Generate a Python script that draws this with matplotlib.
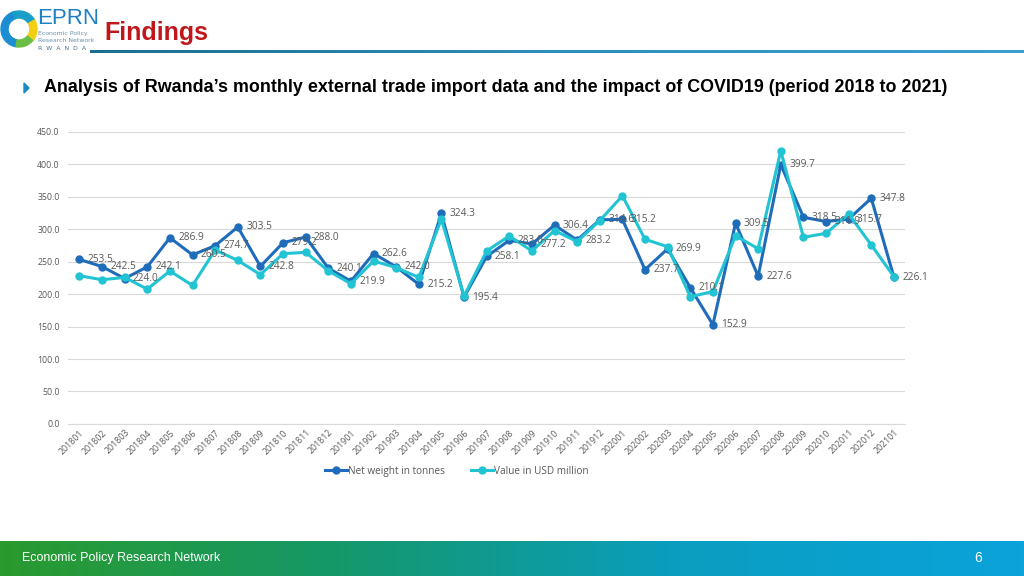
import numpy as np
import matplotlib.pyplot as plt
from matplotlib.patches import Wedge, Polygon
from matplotlib.colors import LinearSegmentedColormap

# Datos
meses = ["201801", "201802", "201803", "201804", "201805", "201806", "201807", "201808",
         "201809", "201810", "201811", "201812", "201901", "201902", "201903", "201904",
         "201905", "201906", "201907", "201908", "201909", "201910", "201911", "201912",
         "202001", "202002", "202003", "202004", "202005", "202006", "202007", "202008",
         "202009", "202010", "202011", "202012", "202101"]

peso_neto = [253.5, 242.5, 224.0, 242.1, 286.9, 260.5, 274.7, 303.5, 242.8, 279.2,
             288.0, 240.1, 219.9, 262.6, 242.0, 215.2, 324.3, 195.4, 258.1, 283.0,
             277.2, 306.4, 283.2, 314.6, 315.2, 237.7, 269.9, 210.1, 152.9, 309.5,
             227.6, 399.7, 318.5, 311.9, 315.7, 347.8, 226.1]

valor_usd = [228.4, 222.2, 225.8, 207.7, 235.6, 213.4, 268.0, 252.0, 230.0, 262.4,
             264.4, 236.0, 216.0, 251.0, 241.0, 225.8, 315.5, 197.0, 266.5, 289.7,
             266.5, 298.0, 281.0, 313.4, 351.5, 284.5, 273.0, 196.0, 204.0, 290.0,
             270.0, 421.0, 287.6, 293.7, 323.5, 275.8, 227.0]

AZUL = "#1F6DBA"
CIAN = "#22C4D4"
GRIS = "#595959"

fig = plt.figure(figsize=(10.24, 5.76), dpi=100)

# Fondo / decoración en coordenadas de píxel
bg = fig.add_axes([0, 0, 1, 1])
bg.set_xlim(0, 1024)
bg.set_ylim(576, 0)
bg.axis("off")

# Banda inferior con degradado
grad = np.linspace(0, 1, 256).reshape(1, -1)
cmap_pie = LinearSegmentedColormap.from_list("pie", ["#2A9A2E", "#15986A", "#0A9EC0", "#0AA3DA"])
bg.imshow(grad, extent=[0, 1024, 576, 541], aspect="auto", cmap=cmap_pie, zorder=1)
bg.text(22, 558, "Economic Policy Research Network", color="white", fontsize=9,
        family="Liberation Sans", va="center", ha="left", zorder=2)
bg.text(978, 558, "6", color="white", fontsize=10, family="Liberation Sans",
        va="center", ha="center", zorder=2)

# Línea bajo el título
cmap_lin = LinearSegmentedColormap.from_list("lin", ["#1A6F8E", "#2E8FB8", "#3BA0D0"])
bg.imshow(grad, extent=[90, 1024, 53.5, 50.5], aspect="auto", cmap=cmap_lin, zorder=1)

# Logo
bg.add_patch(Wedge((19, 29), 18, 100, 250, width=7, color="#1B8ED3", zorder=2))
bg.add_patch(Wedge((19, 29), 18, 250, 330, width=7, color="#1AA0C8", zorder=2))
bg.add_patch(Wedge((19, 29), 18, 330, 40, width=7, color="#F2CF12", zorder=2))
bg.add_patch(Wedge((19, 29), 18, 40, 100, width=7, color="#6BBE45", zorder=2))
bg.text(37, 19, "EPRN", color="#1E80C4", fontsize=16, family="Liberation Sans",
        va="center", ha="left", zorder=2)
bg.text(38, 34, "Economic Policy", color="#6A8FA8", fontsize=4.4, va="center", ha="left")
bg.text(38, 41, "Research Network", color="#6A8FA8", fontsize=4.4, va="center", ha="left")
bg.text(38, 48, "R  W  A  N  D  A", color="#4A6F88", fontsize=4.4, va="center", ha="left")

bg.text(104, 33, "Findings", color="#C0171C", fontsize=18, weight="bold",
        family="Liberation Sans", va="center", ha="left")

bg.add_patch(Polygon([[24, 83], [24, 93], [29, 88]], closed=True, color="#1F8AC8"))
bg.text(44, 88, "Analysis of Rwanda\u2019s monthly external trade import data and the impact of COVID19 (period 2018 to 2021)",
        color="black", fontsize=12.9, weight="bold", family="Liberation Sans",
        va="center", ha="left")

# Gráfico
ax = fig.add_axes([0.0665, 0.264, 0.8175, 0.507])
x = np.arange(len(meses))
l1, = ax.plot(x, peso_neto, color=AZUL, lw=2.2, marker="o", markersize=5,
              label="Net weight in tonnes", zorder=3)
l2, = ax.plot(x, valor_usd, color=CIAN, lw=2.2, marker="o", markersize=5,
              label="Value in USD million", zorder=4)

for xi, v in zip(x, peso_neto):
    ax.annotate(f"{v:.1f}", (xi, v), xytext=(6, 0), textcoords="offset points",
                ha="left", va="center", fontsize=7.3, color=GRIS, family="Open Sans",
                zorder=5)

ax.set_xlim(-0.5, len(meses) - 0.5)
ax.set_ylim(0, 450)
ax.set_yticks(np.arange(0, 451, 50))
ax.set_yticklabels([f"{v:.1f}" for v in np.arange(0, 451, 50)])
ax.set_xticks(x)
ax.set_xticklabels(meses, rotation=45, ha="right", rotation_mode="anchor")
ax.grid(axis="y", color="#D9D9D9", lw=0.8)
ax.set_axisbelow(True)
for s in ax.spines.values():
    s.set_visible(False)
ax.spines["bottom"].set_visible(True)
ax.spines["bottom"].set_color("#D9D9D9")
ax.tick_params(axis="both", length=0, colors=GRIS, labelsize=6.3)
ax.tick_params(axis="y", pad=6)
ax.tick_params(axis="x", pad=3)
for t in ax.get_xticklabels() + ax.get_yticklabels():
    t.set_family("Open Sans")

fig.legend(handles=[l1, l2], loc="center", bbox_to_anchor=(0.446, 0.182), ncol=2,
           frameon=False, prop={"family": "Open Sans", "size": 7.2},
           labelcolor=GRIS, handlelength=2.2, columnspacing=2.6, handletextpad=0.1)

fig.savefig("out.png", dpi=100)
